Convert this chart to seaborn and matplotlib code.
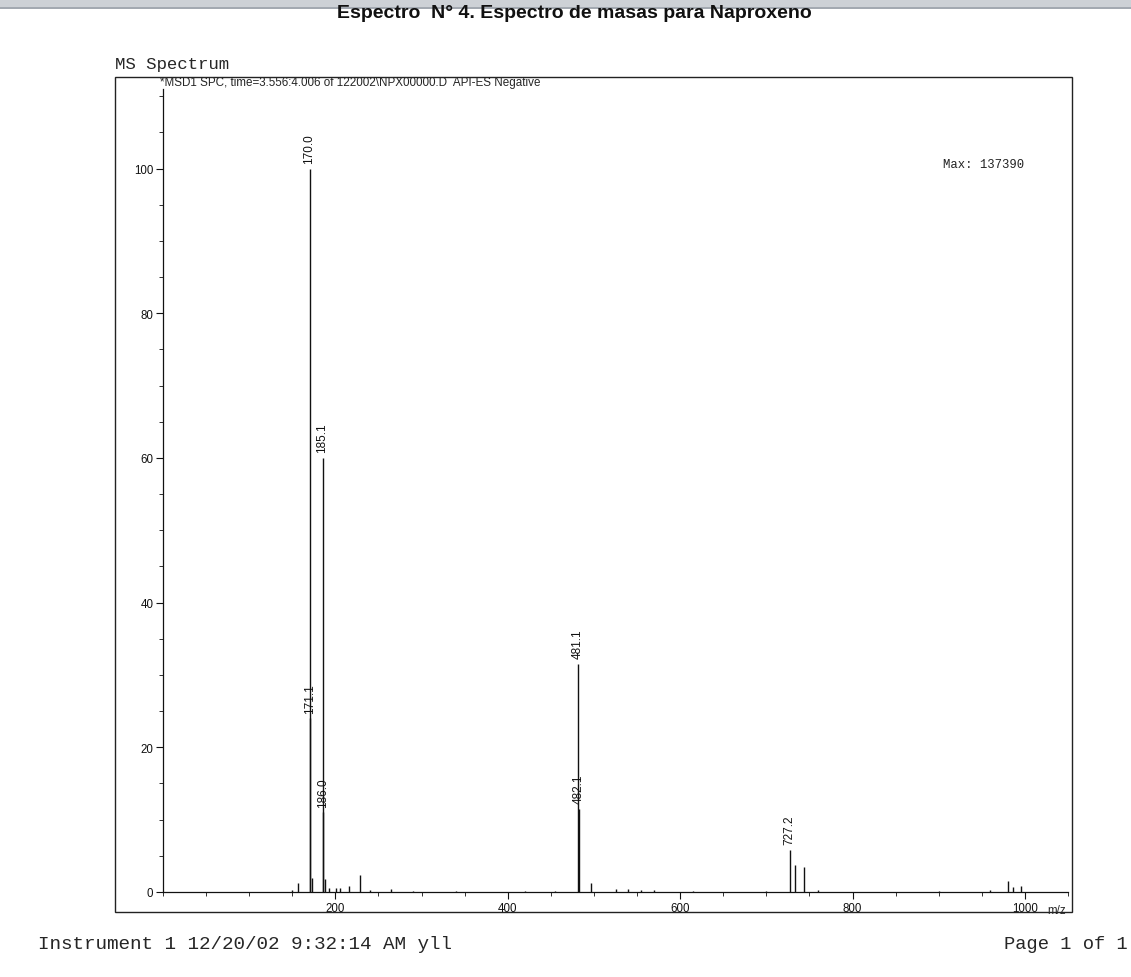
import matplotlib
matplotlib.use("Agg")
import matplotlib.pyplot as plt
import seaborn as sns
from matplotlib.ticker import MultipleLocator
from matplotlib.patches import Rectangle

# m/z values and relative abundance
mz = [150, 157, 170.0, 171.1, 172.5, 185.1, 186.0, 187.5, 193, 201, 205, 216,
      228.5, 240, 265, 290, 340, 420, 455, 481.1, 482.1, 497, 525, 540, 555,
      570, 615, 700, 727.2, 733.5, 744, 760, 900, 960, 980.5, 986, 996]
abundance = [0.3, 1.2, 100, 24, 2.0, 60, 11, 1.8, 0.6, 0.5, 0.6, 0.8,
             2.4, 0.3, 0.4, 0.2, 0.2, 0.2, 0.2, 31.5, 11.5, 1.2, 0.4, 0.4, 0.3,
             0.3, 0.2, 0.2, 5.8, 3.8, 3.5, 0.3, 0.2, 0.3, 1.5, 0.7, 0.8]
labeled = ["170.0", "171.1", "185.1", "186.0", "481.1", "482.1", "727.2"]

title = "Espectro  N\u00b0 4. Espectro de masas para Naproxeno"
header = "*MSD1 SPC, time=3.556:4.006 of 122002\\NPX00000.D  API-ES Negative"

sns.set_theme(style="ticks")
plt.rcParams["font.family"] = ["Liberation Sans", "DejaVu Sans"]

fig = plt.figure(figsize=(11.31, 9.78), dpi=100)
W, H = 1131, 978

def fx(px):
    return px / W

def fy(py):
    return 1 - py / H

# scanner band along the top
fig.patches.append(Rectangle((0, fy(8)), 1, 8 / H, transform=fig.transFigure,
                             facecolor="#cdd1d6", edgecolor="none", zorder=0))
fig.patches.append(Rectangle((0, fy(10)), 1, 2 / H, transform=fig.transFigure,
                             facecolor="#a3a9b1", edgecolor="none", zorder=0))
# outer frame
fig.patches.append(Rectangle((fx(115), fy(913)), 957 / W, 835 / H, transform=fig.transFigure,
                             facecolor="none", edgecolor="#222222", linewidth=1.0))

ax = fig.add_axes([fx(163), fy(893), (1068 - 163) / W, (893 - 90) / H])
ax.vlines(mz, 0, abundance, color="#111111", linewidth=1.0)
for m, a in zip(mz, abundance):
    if f"{m:.1f}" in labeled:
        ax.text(m, a + 0.8, f"{m:.1f}", rotation=90, ha="center", va="bottom",
                fontsize=8.5, color="#111111")

ax.set_xlim(0, 1050)
ax.set_ylim(0, 111)
ax.set_xticks([200, 400, 600, 800, 1000])
ax.set_yticks([0, 20, 40, 60, 80, 100])
ax.xaxis.set_minor_locator(MultipleLocator(50))
ax.yaxis.set_minor_locator(MultipleLocator(5))
ax.tick_params(axis="both", which="major", length=5, width=0.8, labelsize=8.3,
               colors="#111111", pad=2)
ax.tick_params(axis="both", which="minor", length=3, width=0.6, colors="#111111")
sns.despine(ax=ax)
for s in ["left", "bottom"]:
    ax.spines[s].set_color("#111111")
    ax.spines[s].set_linewidth(0.9)
ax.set_facecolor("white")

fig.text(fx(943), fy(165), "Max: 137390", family="Liberation Mono",
         fontsize=8.8, ha="left", va="center", color="#222222")
fig.text(fx(574), fy(14), title, ha="center", va="center", fontsize=14, weight="bold",
         color="#111111")
fig.text(fx(115), fy(64), "MS Spectrum", ha="left", va="center", fontsize=12.5,
         family="Liberation Mono")
fig.text(fx(160), fy(83), header, ha="left", va="center", fontsize=8.4,
         family=["Liberation Sans Narrow", "Liberation Sans", "DejaVu Sans"])
fig.text(fx(1047), fy(911), "m/z", ha="left", va="center", fontsize=8.3)
fig.text(fx(38), fy(945), "Instrument 1 12/20/02 9:32:14 AM yll", ha="left", va="center",
         fontsize=13.9, family="Liberation Mono")
fig.text(fx(1128), fy(945), "Page 1 of 1", ha="right", va="center",
         fontsize=13.5, family="Liberation Mono")

fig.savefig("out.png", dpi=100, facecolor="white")
